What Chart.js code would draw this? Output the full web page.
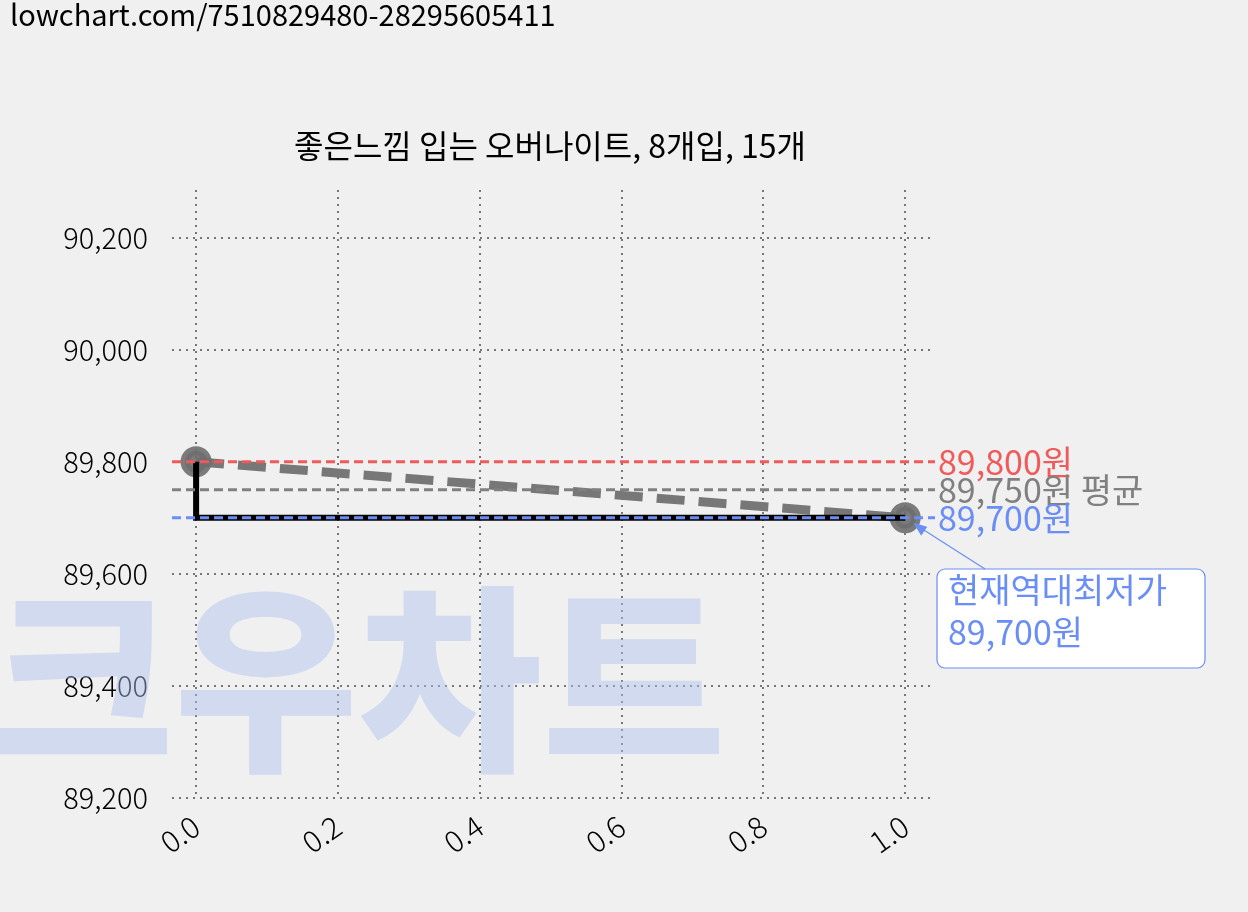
<!DOCTYPE html>
<html><head><meta charset="utf-8">
<script src="https://cdn.jsdelivr.net/npm/chart.js@4"></script>
<style>body{margin:0;background:#f0f0f0}#w{width:1248px;height:912px}</style>
</head><body><div id="w"><canvas id="c"></canvas></div>
<script>
const xs=[0,1];
const prices=[89800,89700];
const stepX=[0,0,1];
const stepY=[89800,89700,89700];
const maxP=89800, avgP=89750, minP=89700;
const yTicks=[89200,89400,89600,89800,90000,90200];
const xTicks=[0,0.2,0.4,0.6,0.8,1.0];
const F='"Noto Sans CJK KR","Noto Sans",sans-serif';
const XMIN=-0.034,XMAX=1.042;
const hline=(v,c,w)=>({data:[{x:XMIN,y:v},{x:XMAX,y:v}],borderColor:c,borderWidth:w,borderDash:[9,5],pointRadius:0,showLine:true});
const deco={id:'deco',beforeDatasetsDraw(ch){const c=ch.ctx;c.save();c.font='900 200px '+F;c.fillStyle='rgba(170,190,235,0.45)';c.textBaseline='alphabetic';c.fillText('크우차트',-10,755);c.restore();},
afterDraw(ch){const c=ch.ctx,x=ch.scales.x,y=ch.scales.y;c.save();
c.fillStyle='#000';c.font='29px '+F;c.textBaseline='top';c.fillText('lowchart.com/7510829480-28295605411',10,0);
c.textAlign='center';c.font='32px '+F;c.fillText('좋은느낌 입는 오버나이트, 8개입, 15개',550,130);
c.textAlign='left';c.textBaseline='middle';c.font='34px '+F;
const xr=938;c.fillStyle='#f05a5a';c.fillText('89,800원',xr,y.getPixelForValue(maxP));
c.fillStyle='#808080';c.fillText('89,750원 평균',xr,y.getPixelForValue(avgP));
c.fillStyle='#6a8ef5';c.fillText('89,700원',xr,y.getPixelForValue(minP));
const bx=937,by=569,bw=268,bh=99;c.fillStyle='#fff';c.strokeStyle='#6a8ef5';c.lineWidth=1.2;c.beginPath();c.roundRect(bx,by,bw,bh,8);c.fill();c.stroke();
c.fillStyle='#6a8ef5';c.textBaseline='top';c.fillText('현재역대최저가',948,573);c.fillText('89,700원',948,615);
const px=x.getPixelForValue(1),py=y.getPixelForValue(minP);
c.beginPath();c.moveTo(985,569);c.lineTo(px+12,py+8);c.stroke();
c.beginPath();c.moveTo(px+8,py+5);c.lineTo(px+22,py+9);c.lineTo(px+16,py+18);c.closePath();c.fill();
c.restore();}};
const grid={color:'#777',lineWidth:2,drawTicks:false};
const border={display:false,dash:[2,5]};
new Chart(document.getElementById('c'),{type:'scatter',
data:{datasets:[
hline(maxP,'#f05a5a',3),hline(avgP,'#808080',3),hline(minP,'#6a8ef5',3),
{data:stepX.map((v,i)=>({x:v,y:stepY[i]})),borderColor:'#000',borderWidth:6,showLine:true,pointRadius:0},
{data:xs.map((v,i)=>({x:v,y:prices[i]})),borderColor:'#777',borderWidth:9,borderDash:[28,14],showLine:true,pointRadius:11,pointBackgroundColor:'rgba(110,110,110,0.9)',pointBorderColor:'rgba(110,110,110,0.9)'}
]},
options:{responsive:true,maintainAspectRatio:false,animation:false,events:[],
layout:{padding:{top:190,right:313,left:0,bottom:0}},
plugins:{legend:{display:false},tooltip:{enabled:false}},
scales:{
x:{type:'linear',min:XMIN,max:XMAX,afterBuildTicks:a=>{a.ticks=xTicks.map(v=>({value:v}))},afterFit:a=>{a.height=114},
border,grid,
ticks:{color:'#000',font:{family:F,size:30,weight:300},maxRotation:35,minRotation:35,padding:10,callback:v=>v.toFixed(1)}},
y:{min:89200,max:90285,afterBuildTicks:a=>{a.ticks=yTicks.map(v=>({value:v}))},afterFit:a=>{a.width=172},
border,grid,
ticks:{color:'#000',font:{family:F,size:29,weight:300},padding:24,callback:v=>v.toLocaleString('en-US')}}}},
plugins:[deco]});
</script></body></html>
